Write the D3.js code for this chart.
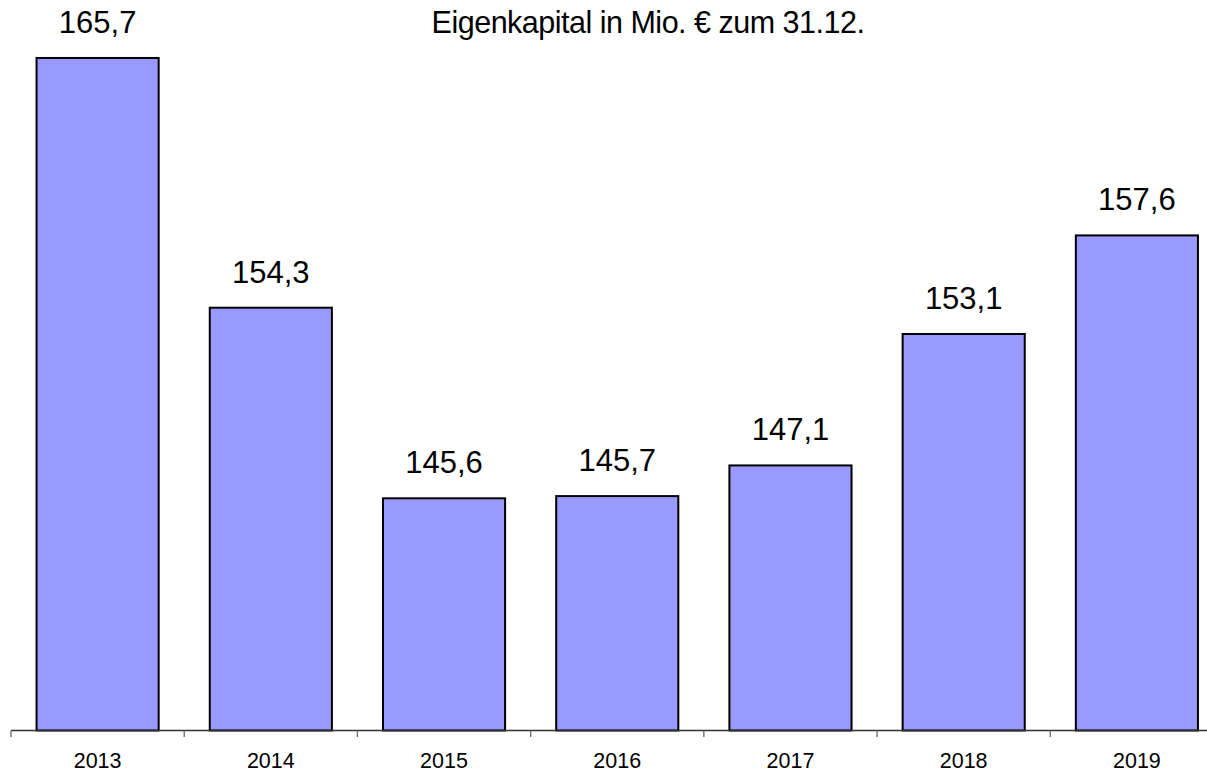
<!DOCTYPE html>
<html>
<head>
<meta charset="utf-8">
<script src="https://d3js.org/d3.v7.min.js"></script>
<style>
  body { margin: 0; background: #fff; }
  svg { display: block; font-family: "Liberation Sans", Arial, sans-serif; }
</style>
</head>
<body>
<div id="chart"></div>
<script>
// chart data
var years = ["2013", "2014", "2015", "2016", "2017", "2018", "2019"];
var equity = [165.7, 154.3, 145.6, 145.7, 147.1, 153.1, 157.6];
var title = "Eigenkapital in Mio. € zum 31.12.";

var width = 1207, height = 772;
var bar_color = "#9999ff";

var svg = d3.select("#chart")
    .append("svg")
    .attr("width", width)
    .attr("height", height);

// band scale runs a bit past the right edge, like in the original
var x = d3.scaleBand()
    .domain(years)
    .range([11, 1223.5])
    .paddingInner(0.295)
    .paddingOuter(0.1475);

var y = d3.scaleLinear()
    .domain([135, 167])
    .range([730.5, 29.5]);

// bars
svg.append("g")
    .selectAll("rect")
    .data(equity)
    .join("rect")
    .attr("x", function (d, i) { return x(years[i]); })
    .attr("y", function (d) { return y(d); })
    .attr("width", x.bandwidth())
    .attr("height", function (d) { return y(135) - y(d); })
    .attr("fill", bar_color)
    .attr("stroke", "#000")
    .attr("stroke-width", 2);

// value labels
svg.append("g")
    .selectAll("text")
    .data(equity)
    .join("text")
    .attr("x", function (d, i) { return x(years[i]) + x.bandwidth() / 2; })
    .attr("y", function (d) { return y(d) - 25; })
    .attr("text-anchor", "middle")
    .attr("font-size", 31)
    .attr("fill", "#000")
    .text(function (d) { return d.toFixed(1).replace(".", ","); });

// x axis: line, ticks between categories, year labels
var axis = svg.append("g");
var step = x.step();
var tickPos = d3.range(years.length + 1).map(function (i) { return 11 + i * step; });

axis.append("line")
    .attr("x1", 11).attr("x2", 1223.5)
    .attr("y1", 730.5).attr("y2", 730.5)
    .attr("stroke", "#333")
    .attr("stroke-width", 1.3);

axis.selectAll("line.tick")
    .data(tickPos)
    .join("line")
    .attr("class", "tick")
    .attr("x1", function (d) { return d; })
    .attr("x2", function (d) { return d; })
    .attr("y1", 730.5).attr("y2", 737)
    .attr("stroke", "#666")
    .attr("stroke-width", 1.3);

axis.selectAll("text")
    .data(years)
    .join("text")
    .attr("x", function (d) { return x(d) + x.bandwidth() / 2; })
    .attr("y", 768)
    .attr("text-anchor", "middle")
    .attr("font-size", 21.5)
    .attr("fill", "#000")
    .text(function (d) { return d; });

// title
svg.append("text")
    .attr("x", 648)
    .attr("y", 33)
    .attr("text-anchor", "middle")
    .attr("font-size", 30.5)
    .attr("letter-spacing", -0.5)
    .attr("fill", "#000")
    .text(title);
</script>
</body>
</html>
